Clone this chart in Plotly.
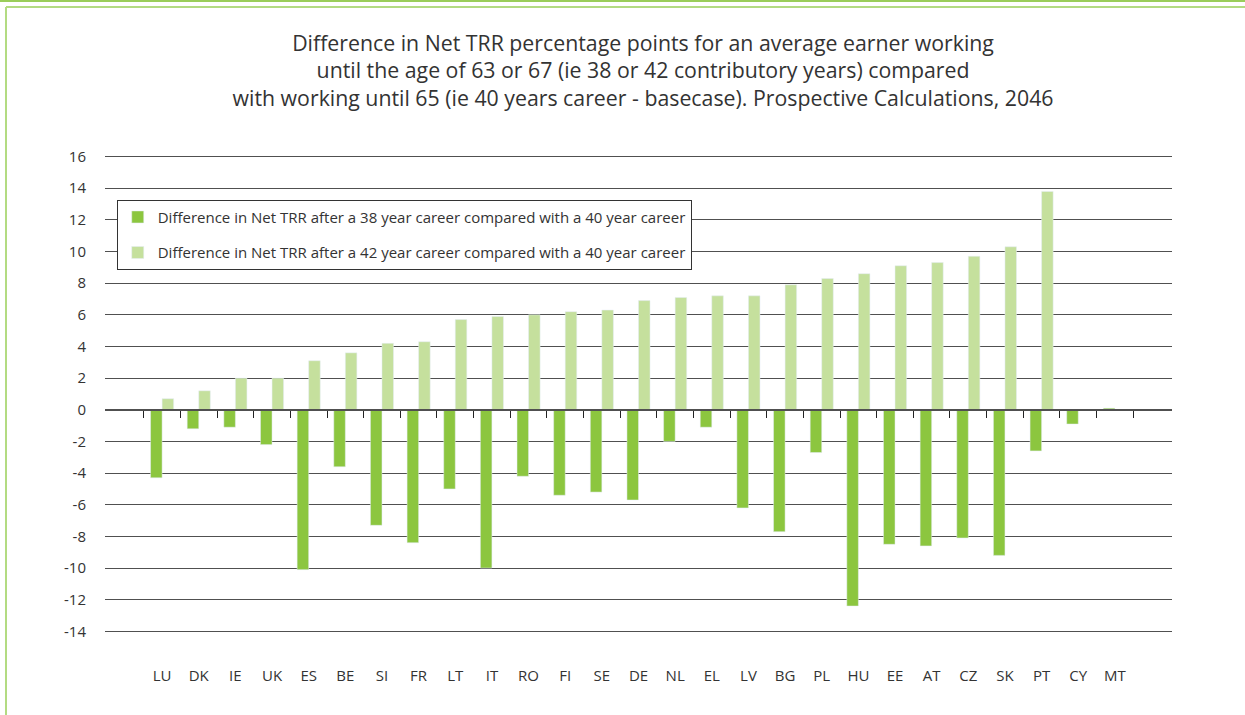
import plotly.graph_objects as go

countries = ["LU", "DK", "IE", "UK", "ES", "BE", "SI", "FR", "LT", "IT", "RO", "FI", "SE", "DE",
             "NL", "EL", "LV", "BG", "PL", "HU", "EE", "AT", "CZ", "SK", "PT", "CY", "MT"]
diff_38 = [-4.3, -1.2, -1.1, -2.2, -10.1, -3.6, -7.3, -8.4, -5.0, -10.0, -4.2, -5.4, -5.2, -5.7,
           -2.0, -1.1, -6.2, -7.7, -2.7, -12.4, -8.5, -8.6, -8.1, -9.2, -2.6, -0.9, 0.1]
diff_42 = [0.7, 1.2, 2.0, 2.0, 3.1, 3.6, 4.2, 4.3, 5.7, 5.9, 6.0, 6.2, 6.3, 6.9,
           7.1, 7.2, 7.2, 7.9, 8.3, 8.6, 9.1, 9.3, 9.7, 10.3, 13.8, None, None]
ytick_vals = [-14, -12, -10, -8, -6, -4, -2, 0, 2, 4, 6, 8, 10, 12, 14, 16]
ytick_text = ["-14", "-12", "-10", "-8", "-6", "-4", "-2", "0", "2", "4", "6", "8", "10", "12", "14", "16"]

name_38 = "Difference in Net TRR after a 38 year career compared with a 40 year career"
name_42 = "Difference in Net TRR after a 42 year career compared with a 40 year career"

DARK = "#8CC63F"
LIGHT = "#C5E09D"
FONT = "Open Sans, Noto Sans, sans-serif"
TXT = "#333333"
GRID = "#505050"

ymin, ymax = -16, 16.1

fig = go.Figure()
fig.add_trace(go.Bar(x=countries, y=diff_38, name=name_38, marker_color=DARK,
                     legendgroup="a"))
fig.add_trace(go.Bar(x=countries, y=diff_42, name=name_42, marker_color=LIGHT,
                     legendgroup="b"))
# invisible helper trace so the bottom label axis has categories
fig.add_trace(go.Scatter(x=countries, y=[0] * len(countries), xaxis="x2", mode="markers",
                         marker=dict(opacity=0), showlegend=False, hoverinfo="skip"))

zero_pos = (0 - ymin) / (ymax - ymin)

fig.update_layout(
    width=1245, height=715,
    paper_bgcolor="white", plot_bgcolor="white",
    margin=dict(l=105, r=73, t=155, b=52),
    barmode="group", bargap=0.37, bargroupgap=0,
    font=dict(family=FONT, color=TXT, size=15),
    title=dict(
        text="Difference in Net TRR percentage points for an average earner working<br>"
             "until the age of 63 or 67 (ie 38 or 42 contributory years) compared<br>"
             "with working until 65 (ie 40 years career - basecase). Prospective Calculations, 2046",
        x=0.5165, xanchor="center", y=0.929, yanchor="middle",
        font=dict(family=FONT, size=21.3, color=TXT),
    ),
    xaxis=dict(
        type="category", anchor="free", position=zero_pos,
        showline=True, linecolor=GRID, linewidth=1.5,
        ticks="outside", tickson="boundaries", ticklen=7, tickcolor="#222", tickwidth=1.2,
        showticklabels=False, showgrid=False, fixedrange=True,
    ),
    xaxis2=dict(
        type="category", overlaying="x", matches="x", anchor="y", side="bottom",
        showline=False, ticks="", showgrid=False, showticklabels=True,
        ticklabelstandoff=2,
        tickfont=dict(family=FONT, size=15, color=TXT),
    ),
    yaxis=dict(
        range=[ymin, ymax], tickvals=ytick_vals, ticktext=ytick_text,
        showgrid=True, gridcolor=GRID, gridwidth=1.3,
        zeroline=False, showline=False, ticks="", ticklabelstandoff=18,
        tickfont=dict(family=FONT, size=15, color=TXT),
    ),
    legend=dict(
        x=0.011, y=0.912, xanchor="left", yanchor="top",
        bordercolor="#333", borderwidth=1, bgcolor="white",
        font=dict(family=FONT, size=15, color=TXT),
        traceorder="grouped", tracegroupgap=13,
    ),
    showlegend=True,
)

W = 1067.0
H = 508.0
# decorative green frame (page pixel positions converted to paper fractions)
def px(x):
    return (x - 105) / W

def py(y):
    return 1 - (y - 155) / H

fig.add_shape(type="line", xref="paper", yref="paper",
              x0=px(0), x1=px(1245), y0=py(1), y1=py(1),
              line=dict(color="#9ACD5A", width=2))
fig.add_shape(type="line", xref="paper", yref="paper",
              x0=px(6), x1=px(1245), y0=py(7), y1=py(7),
              line=dict(color="#B3DB82", width=2))
fig.add_shape(type="line", xref="paper", yref="paper",
              x0=px(6), x1=px(6), y0=py(7), y1=py(715),
              line=dict(color="#B3DB82", width=2))

fig.write_html("out.html", config={"displayModeBar": False},
               post_script="document.body.style.margin='0';document.body.style.overflow='hidden';")
